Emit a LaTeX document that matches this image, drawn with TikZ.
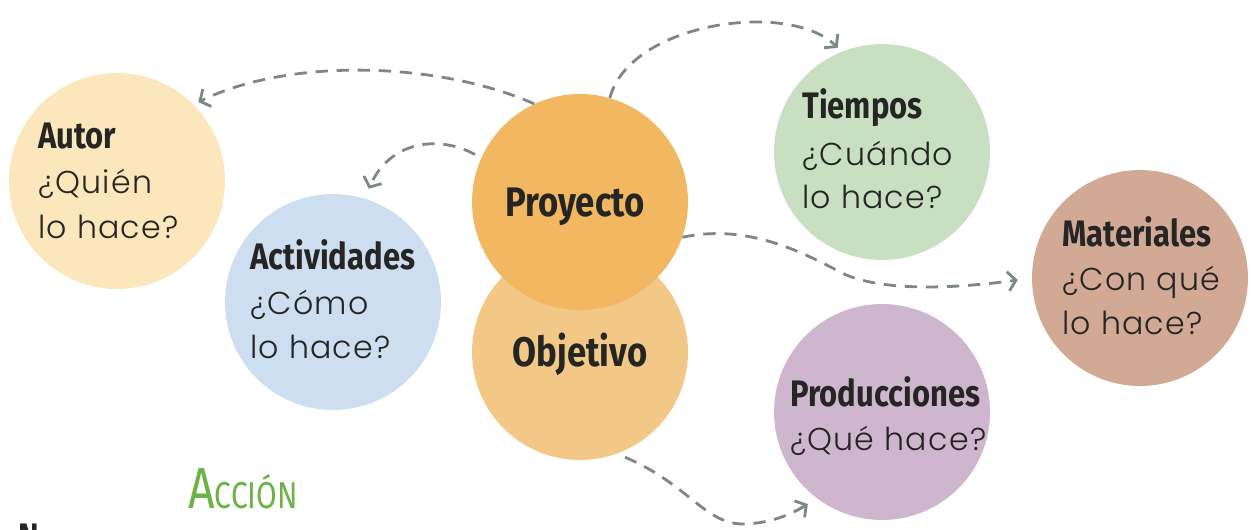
\documentclass[tikz,border=0pt]{standalone}
\usepackage{fontspec}
\usetikzlibrary{arrows.meta}
\newfontfamily\titlef{Fira Sans}[FakeStretch=0.84]
\newfontfamily\handf{Poppins Light}[LetterSpace=4]
\newfontfamily\accf{Fira Sans}[FakeStretch=0.8]
\definecolor{autorc}{HTML}{FCE6BB}
\definecolor{actc}{HTML}{CCDEEF}
\definecolor{proyc}{HTML}{F2B761}
\definecolor{objc}{HTML}{F3C785}
\definecolor{tiemc}{HTML}{C8E0C1}
\definecolor{matc}{HTML}{D1A995}
\definecolor{prodc}{HTML}{CEB6CE}
\definecolor{arrowc}{HTML}{7D8787}
\definecolor{accc}{HTML}{6BB344}
\definecolor{textc}{HTML}{252623}
\tikzset{
  circ/.style={circle, minimum size=4.32cm, inner sep=0pt, draw=none},
  ttl/.style={anchor=base west, inner sep=0pt, text=textc, font=\titlef\bfseries\fontsize{21}{25}\selectfont},
  big/.style={anchor=base, inner sep=0pt, text=textc, font=\titlef\bfseries\fontsize{23.5}{27}\selectfont},
  qst/.style={anchor=base west, inner sep=0pt, text=textc, font=\handf\fontsize{18}{25}\selectfont},
  arr/.style={draw=arrowc, line width=1.6pt, dash pattern=on 7pt off 5pt,
    -{Straight Barb[length=4.5pt,width=11pt,line width=1.6pt]}}
}
\begin{document}
\begin{tikzpicture}[x=0.02cm,y=-0.02cm]
\useasboundingbox (0,0) rectangle (1254,529);
% circles
\node[circ, fill=autorc] (autor) at (117,181) {};
\node[circ, fill=actc] (act) at (333,302) {};
\node[circ, fill=objc] (obj) at (580,352) {};
\node[circ, fill=proyc] (proy) at (580,202) {};
\node[circ, fill=tiemc] (tiem) at (882,152) {};
\node[circ, fill=matc] (mat) at (1140,278) {};
\node[circ, fill=prodc] (prod) at (882,412) {};
% texts
\node[ttl] (autorT) at (38,148) {Autor};
\node[qst] (autorQ1) at (38,193) {¿Quién};
\node[qst] (autorQ2) at (38,238) {lo hace?};
\node[ttl] (actT) at (250,269) {Actividades};
\node[qst] (actQ1) at (250,314) {¿Cómo};
\node[qst] (actQ2) at (250,358) {lo hace?};
\node[big] (proyT) at (575,216) {Proyecto};
\node[big] (objT) at (580,366) {Objetivo};
\node[ttl] (tiemT) at (802,118) {Tiempos};
\node[qst] (tiemQ1) at (802,165) {¿Cuándo};
\node[qst] (tiemQ2) at (802,208) {lo hace?};
\node[ttl] (matT) at (1062,246) {Materiales};
\node[qst] (matQ1) at (1062,290) {¿Con qué};
\node[qst] (matQ2) at (1062,334) {lo hace?};
\node[ttl] (prodT) at (790,406) {Producciones};
\node[qst] (prodQ1) at (790,450) {¿Qué hace?};
\node[anchor=base west, inner sep=0pt, text=accc, font=\accf\fontsize{33}{35}\selectfont] (acc) at (188,508) {A{\fontsize{21.3}{23}\selectfont CCIÓN}};
\node[ttl] (nn) at (18,549) {N};
% connectors
\draw[arr, shorten >=3pt] (proy.115) .. controls (440,62) and (290,57) .. (autor.45);
\draw[arr, shorten <=4pt, shorten >=6pt] (proy.156) .. controls (440,135) and (390,140) .. (act.73);
\draw[arr, shorten >=3pt] (proy.74) .. controls (630,22) and (790,0) .. (tiem.112);
\draw[arr, shorten >=8pt] (proy.-19) .. controls (740,225) and (790,245) .. (840,272) .. controls (880,293) and (960,288) .. (mat.180);
\draw[arr, shorten <=5pt, shorten >=6pt] (obj.-70) .. controls (690,485) and (705,525) .. (745,524) .. controls (770,523) and (790,515) .. (prod.233);
\end{tikzpicture}
\end{document}
